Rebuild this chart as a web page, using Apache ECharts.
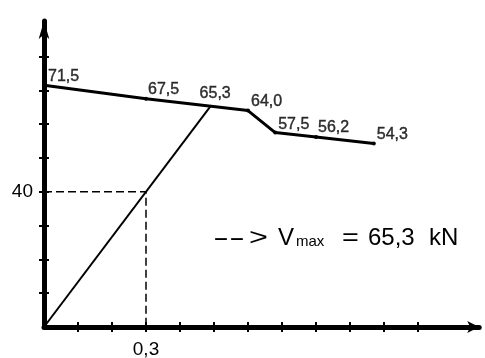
<!DOCTYPE html>
<html><head><meta charset="utf-8">
<script src="https://cdn.jsdelivr.net/npm/echarts@6/dist/echarts.min.js"></script>
<style>html,body{margin:0;padding:0;background:#fff}#c{width:485px;height:358px}</style>
</head><body><div id="c"></div>
<script>
// ---- data ----
const envelopeX = [0, 0.3, 0.6, 0.68, 0.8, 0.97];
const envelopeY = [71.5, 67.5, 64.0, 57.5, 56.2, 54.3];
const rampX = [0, 0.49];
const rampY = [0, 65.3];
const guideX = [0, 0.3, 0.3];
const guideY = [40, 40, 0];
const labelX = [0, 0.3, 0.49, 0.6, 0.68, 0.8, 0.97];
const labelY = [71.5, 67.5, 65.3, 64.0, 57.5, 56.2, 54.3];
const xTickValues = [0.1, 0.2, 0.3, 0.4, 0.5, 0.6, 0.7, 0.8, 0.9, 1.0, 1.1];
const yTickValues = [10, 20, 30, 40, 50, 60, 70, 80];
const xTickLabels = [0.3];
const yTickLabels = [40];
const vmaxValue = 65.3;
const vmaxUnit = 'kN';

// ---- helpers / styles ----
const fmt = v => Number(v).toFixed(1).replace('.', ',');
const fmtInt = v => (Math.round(v * 10) / 10).toString().replace('.', ',');
const labelShift = [[4, -1], [2, -1], [-11, -5], [3, -1], [3, 0], [2, -1], [3, -1]];
const X_MAX = 1.28, Y_MAX = 90.5;
const black = '#000';

const chart = echarts.init(document.getElementById('c'), null, {renderer: 'canvas'});
const zip = (xs, ys) => xs.map((x, i) => [x, ys[i]]);

function xAxisDef(primary) {
  return {
    type: 'value', min: 0, max: X_MAX, position: 'bottom',
    axisLine: primary ? {show: true, symbol: ['none', 'arrow'], symbolSize: [9, 12],
      lineStyle: {color: black, width: 5}} : {show: false},
    axisTick: {show: true, inside: !primary, length: 5, customValues: xTickValues,
      lineStyle: {color: black, width: 2}},
    axisLabel: primary ? {show: true, customValues: xTickLabels, formatter: fmtInt, margin: 13,
      color: black, fontSize: 19, fontFamily: 'Liberation Sans'} : {show: false},
    splitLine: {show: false}
  };
}
function yAxisDef(primary) {
  return {
    type: 'value', min: 0, max: Y_MAX, position: 'left',
    axisLine: primary ? {show: true, symbol: ['none', 'arrow'], symbolSize: [8, 18],
      lineStyle: {color: black, width: 5}} : {show: false},
    axisTick: {show: true, inside: !primary, length: 5, customValues: yTickValues,
      lineStyle: {color: black, width: 2}},
    axisLabel: primary ? {show: true, customValues: yTickLabels, formatter: fmtInt, margin: 11,
      color: black, fontSize: 19, fontFamily: 'Liberation Sans'} : {show: false},
    splitLine: {show: false}
  };
}

const bigFont = '24px "Liberation Sans", Arial, sans-serif';
const subFont = '15px "Liberation Sans", Arial, sans-serif';
const txt = (x, y, text, font, extra) => Object.assign(
  {type: 'text', x: x, y: y, silent: true,
   style: {text: text, fill: black, font: font, verticalAlign: 'middle'}}, extra || {});
const option = {
  animation: false,
  backgroundColor: '#fff',
  grid: {left: 44, top: 21, width: X_MAX * 340, height: Y_MAX * 3.381, outerBoundsMode: 'none', containLabel: false},
  xAxis: [xAxisDef(true), xAxisDef(false)],
  yAxis: [yAxisDef(true), yAxisDef(false)],
  graphic: [
    txt(213, 238, '--', bigFont, {scaleX: 2.0}),
    txt(249, 238, '>', bigFont, {scaleX: 1.35}),
    txt(278, 238, 'V', bigFont),
    txt(296, 242, 'max', subFont),
    txt(342, 238, '=', bigFont, {scaleX: 1.2}),
    txt(368, 238, fmt(vmaxValue), bigFont),
    txt(429, 238, vmaxUnit, bigFont)
  ],
  series: [
    {type: 'line', xAxisIndex: 0, yAxisIndex: 0, data: zip(guideX, guideY), symbol: 'none',
      lineStyle: {color: black, width: 1.5, type: [8, 4]}, z: 2, silent: true},
    {type: 'line', xAxisIndex: 0, yAxisIndex: 0, data: zip(rampX, rampY), symbol: 'none',
      lineStyle: {color: black, width: 2}, z: 3, silent: true},
    {type: 'line', xAxisIndex: 0, yAxisIndex: 0, data: zip(envelopeX, envelopeY), symbol: 'circle', symbolSize: 4,
      itemStyle: {color: black}, lineStyle: {color: black, width: 3}, z: 4, silent: true},
    {type: 'scatter', xAxisIndex: 0, yAxisIndex: 0, symbolSize: 0, z: 5, silent: true,
      data: labelX.map((x, i) => ({
        value: [x, labelY[i]],
        label: {show: true, position: 'top', distance: 0, align: 'left', verticalAlign: 'bottom',
          offset: labelShift[i], formatter: p => fmt(p.value[1]),
          color: black, fontSize: 16, lineHeight: 16, fontFamily: 'Liberation Sans',
          textBorderColor: black, textBorderWidth: 0.4}
      }))}
  ]
};
chart.setOption(option);
</script>
</body></html>
